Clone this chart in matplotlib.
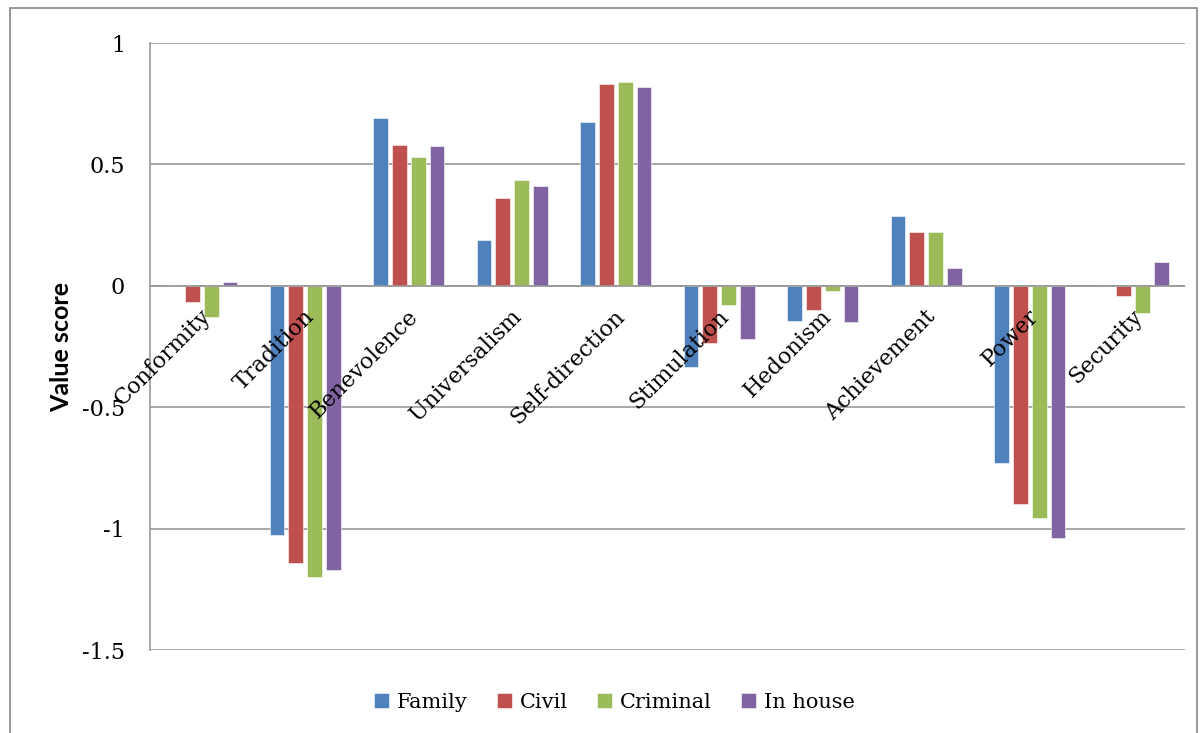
import numpy as np
import matplotlib.pyplot as plt
from matplotlib.patches import Rectangle

categories = ['Conformity', 'Tradition', 'Benevolence', 'Universalism', 'Self-direction',
              'Stimulation', 'Hedonism', 'Achievement', 'Power', 'Security']
family = [0.004, -1.025, 0.69, 0.19, 0.675, -0.333, -0.143, 0.288, -0.73, 0.0]
civil = [-0.068, -1.14, 0.58, 0.36, 0.83, -0.235, -0.10, 0.222, -0.897, -0.042]
criminal = [-0.128, -1.20, 0.53, 0.436, 0.84, -0.08, -0.02, 0.222, -0.955, -0.112]
in_house = [0.016, -1.17, 0.575, 0.41, 0.82, -0.22, -0.147, 0.074, -1.04, 0.099]
series_names = ['Family', 'Civil', 'Criminal', 'In house']
colors = ['#4F81BD', '#C0504D', '#9BBB59', '#8064A2']
yticks = [1, 0.5, 0, -0.5, -1, -1.5]
ytick_labels = ['1', '0.5', '0', '-0.5', '-1', '-1.5']

serif = 'DejaVu Serif'

fig = plt.figure(figsize=(12, 7.33), dpi=100)
ax = fig.add_axes([0.125, 0.1132, 0.8625, 0.8281])

# outer chart border
fig.patches.append(Rectangle((0.0085, -0.05), 0.989, 1.039, transform=fig.transFigure,
                             fill=False, edgecolor='#888888', linewidth=1.2))

x = np.arange(len(categories))
step = 0.182
width = 0.142
data = [family, civil, criminal, in_house]
for i, (vals, name, col) in enumerate(zip(data, series_names, colors)):
    ax.bar(x + (i - 1.5) * step, vals, width, color=col, label=name,
           edgecolor='white', linewidth=0.4, zorder=3)

ax.set_xlim(-0.5, len(categories) - 0.5)
ax.set_ylim(-1.5, 1)
ax.set_yticks(yticks)
ax.set_yticklabels(ytick_labels, family=serif, fontsize=16)
ax.tick_params(axis='y', length=0, pad=18)
ax.set_xticks([])
ax.grid(axis='y', color='#999999', linewidth=1.2, zorder=0)
ax.axhline(0, color='#999999', linewidth=1.2, zorder=4)
for s in ['top', 'right', 'bottom']:
    ax.spines[s].set_visible(False)
ax.spines['left'].set_color('#999999')
ax.spines['left'].set_linewidth(1.2)

# category labels sit along the zero line
for xi, lab in zip(x, categories):
    ax.text(xi - 0.02, -0.08, lab, rotation=45, ha='right', va='top',
            rotation_mode='anchor', fontsize=16, family=serif, zorder=6)

ax.set_ylabel('Value score', fontsize=18, fontweight='bold', family='Lato')
ax.yaxis.set_label_coords(-0.074, 0.5)

leg = ax.legend(loc='upper center', bbox_to_anchor=(0.449, -0.04), ncol=4, frameon=False,
                prop={'family': serif, 'size': 15}, handlelength=0.7, handleheight=0.7,
                handletextpad=0.4, columnspacing=1.4)

fig.savefig('out.png', dpi=100)
